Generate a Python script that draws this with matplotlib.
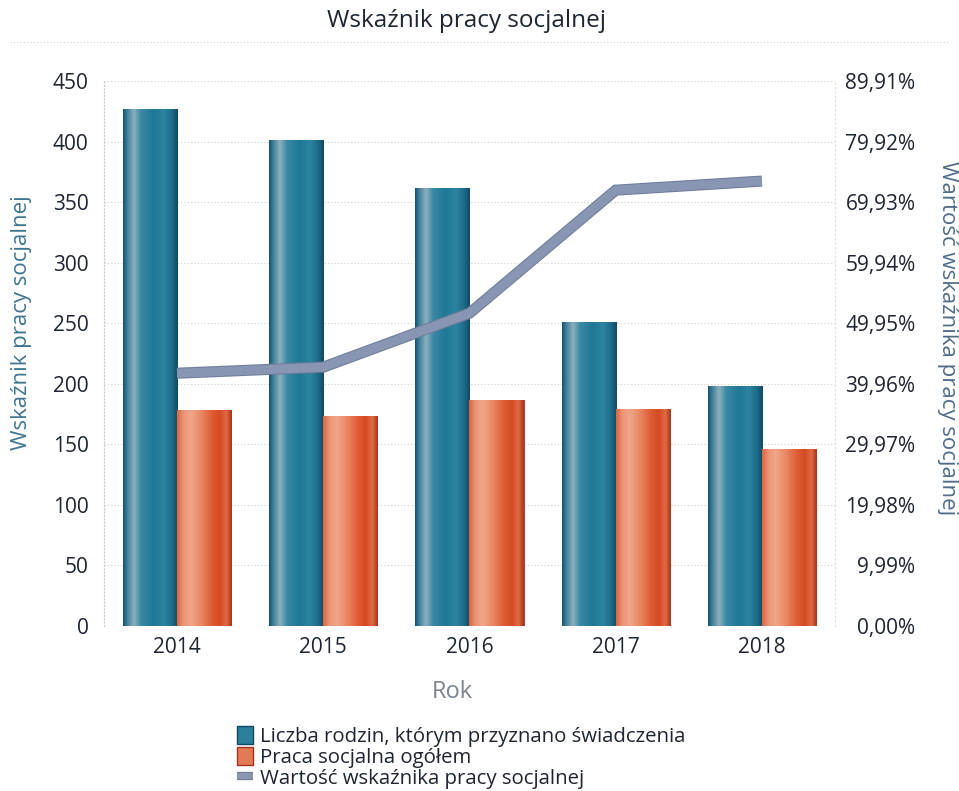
import numpy as np
import matplotlib
matplotlib.use('Agg')
import matplotlib.pyplot as plt
from matplotlib.colors import LinearSegmentedColormap
from matplotlib.patches import Patch
from matplotlib.lines import Line2D
import matplotlib.patheffects as pe

plt.rcParams['font.family'] = ['Open Sans', 'DejaVu Sans']

years = ['2014', '2015', '2016', '2017', '2018']
rodziny = [427, 401, 362, 251, 198]
praca = [178, 173, 187, 179, 146]
wskaznik = [41.7, 42.7, 51.6, 71.9, 73.4]

pct_ticks = [i * 9.99 for i in range(10)]
pct_labels = [('%.2f%%' % v).replace('.', ',') for v in pct_ticks]

teal_cmap = LinearSegmentedColormap.from_list('teal', [
    (0.0, '#16506b'), (0.07, '#3b7d97'), (0.2, '#8db0be'), (0.33, '#3a89a4'),
    (0.55, '#1f7896'), (0.75, '#2c84a0'), (0.9, '#1c6a87'), (1.0, '#134863')])
orange_cmap = LinearSegmentedColormap.from_list('orange', [
    (0.0, '#d9653f'), (0.12, '#ec9677'), (0.25, '#f0a689'), (0.45, '#e98460'),
    (0.65, '#de5a32'), (0.78, '#d44a22'), (0.9, '#e06a45'), (1.0, '#a8331a')])

fig = plt.figure(figsize=(9.59, 7.91), dpi=100)
ax = fig.add_axes([0.1084, 0.2086, 0.7623, 0.689])
ax2 = ax.twinx()

x = np.arange(len(years))
w = 0.37
b1 = ax.bar(x - w / 2, rodziny, w, color='#1f7896', edgecolor='#134863', linewidth=0.6, zorder=2)
b2 = ax.bar(x + w / 2, praca, w, color='#e07050', edgecolor='#a8331a', linewidth=0.6, zorder=2)

grad = np.linspace(0, 1, 256).reshape(1, -1)
for bars, cm in [(b1, teal_cmap), (b2, orange_cmap)]:
    for r in bars:
        bx, by = r.get_x(), r.get_y()
        im = ax.imshow(grad, cmap=cm, aspect='auto', zorder=2.5,
                       extent=[bx, bx + r.get_width(), by, by + r.get_height()])
        im.set_clip_path(r)

ax.set_xlim(-0.5, len(years) - 0.5)
ax.set_ylim(0, 450)
ax.set_yticks(range(0, 451, 50))
ax.set_xticks(x)
ax.set_xticklabels(years)
ax.tick_params(axis='both', length=0, labelsize=15, colors='#1e2530')
ax.tick_params(axis='y', pad=11)
ax.tick_params(axis='x', pad=8)
ax.grid(axis='y', linestyle=(0, (1, 2)), color='#cfcfcf', linewidth=0.8, zorder=0)
ax.set_axisbelow(True)

for s in ['top', 'right', 'bottom']:
    ax.spines[s].set_visible(False)
ax.spines['left'].set_linestyle((0, (1, 2)))
ax.spines['left'].set_color('#c8c8c8')
for s in ['top', 'left', 'bottom']:
    ax2.spines[s].set_visible(False)
ax2.spines['right'].set_linestyle((0, (1, 3)))
ax2.spines['right'].set_color('#dddddd')

ax2.plot(x, wskaznik, color='#8896b4', linewidth=6.5, solid_joinstyle='miter',
         solid_capstyle='butt', zorder=3,
         path_effects=[pe.Stroke(linewidth=8, foreground='#6f7d9a'), pe.Normal()])
ax2.set_ylim(0, 89.91)
ax2.set_yticks(pct_ticks)
ax2.set_yticklabels(pct_labels, ha='right')
ax2.tick_params(axis='y', length=0, labelsize=15, colors='#1e2530', pad=58)

fig.text(0.022, 0.592, 'Wskaźnik pracy socjalnej', rotation=90,
         ha='center', va='center', fontsize=16, color='#3e7591')
fig.text(0.9875, 0.573, 'Wartość wskaźnika pracy socjalnej', rotation=270,
         ha='center', va='center', fontsize=16, color='#4e6c8a')
ax.set_xlabel('Rok', fontsize=17, color='#7b838d')
ax.xaxis.set_label_coords(0.476, -0.1)

fig.text(0.486, 0.973, 'Wskaźnik pracy socjalnej', ha='center', va='center',
         fontsize=17.5, color='#1e2530')
fig.add_artist(Line2D([0.01, 0.99], [0.947, 0.947], transform=fig.transFigure,
                      linestyle=(0, (1, 2)), color='#d0d0d0', linewidth=0.8))

handles = [Patch(facecolor='#2a7f9c', edgecolor='#134863'),
           Patch(facecolor='#e27a56', edgecolor='#a8331a'),
           Line2D([0], [0], color='#8896b4', linewidth=4.5, solid_capstyle='butt',
                  path_effects=[pe.Stroke(linewidth=6, foreground='#6f7d9a'), pe.Normal()])]
labels = ['Liczba rodzin, którym przyznano świadczenia', 'Praca socjalna ogółem',
          'Wartość wskaźnika pracy socjalnej']
leg = fig.legend(handles, labels, loc='upper left', bbox_to_anchor=(0.236, 0.095),
                 frameon=False, fontsize=14.7, handlelength=0.8, handleheight=1.0,
                 handletextpad=0.35, labelspacing=0.0, borderpad=0, labelcolor='#1e2530')
for ln in leg.get_lines():
    ln.set_solid_capstyle('butt')

fig.savefig('out.png', dpi=100)
